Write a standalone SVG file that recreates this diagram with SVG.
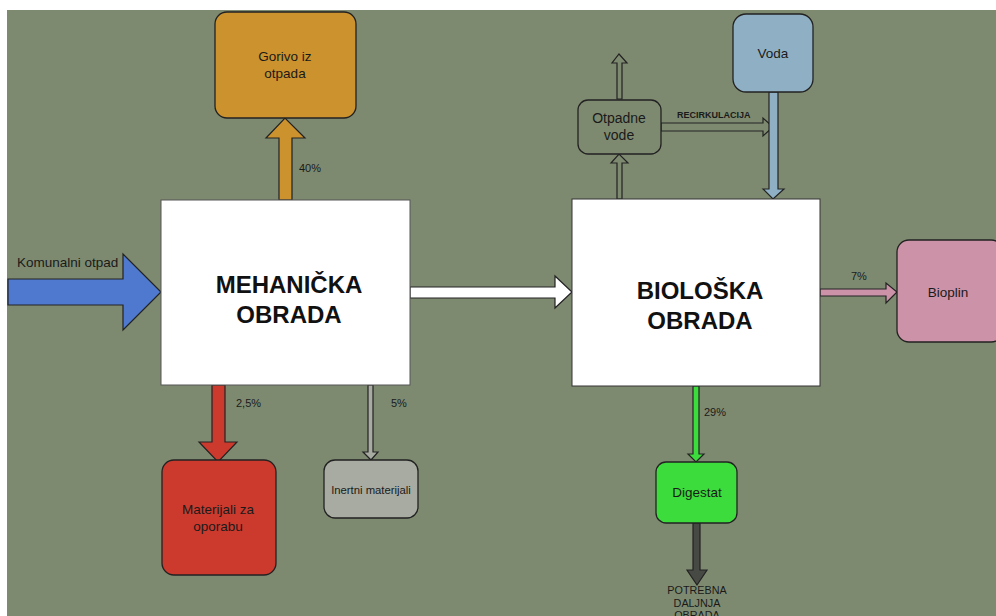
<svg xmlns="http://www.w3.org/2000/svg" width="996" height="616" viewBox="0 0 996 616">
<style>
.t{font-family:"Liberation Sans",Arial,sans-serif;fill:#1a1a1a;text-anchor:middle}
.s{font-size:13.5px}
.b{font-size:24px;font-weight:bold;fill:#111}
.p{font-family:"Liberation Sans",Arial,sans-serif;font-size:11px;fill:#1a1a1a}
.n{stroke:#222;stroke-width:1.3}
.a{stroke:#222;stroke-width:1.2;stroke-linejoin:miter}
</style>
<rect x="0" y="0" width="996" height="616" fill="#ffffff"/>
<rect x="7" y="10" width="989" height="606" fill="#7e8a70"/>

<g id="connectors">
<polygon class="a" fill="#4f79cf" points="8,279 123,279 123,254 161,292 123,330 123,305 8,305"/>
<polygon class="a" fill="#cc922e" points="279,200 279,138 266,138 285,118 305,138 292,138 292,200"/>
<polygon class="a" fill="#ffffff" points="410,287 555,287 555,276 572,292 555,308 555,298 410,298"/>
<polygon class="a" fill="#cc3a2e" points="212,385 212,442 199,442 218,462 237,442 225,442 225,385"/>
<polygon class="a" fill="#a7aba1" points="368,385 368,452 363,452 371,460 378,452 373,452 373,385"/>
<polygon class="a" fill="#3cdc3c" points="693,386 693,454 688,454 696,462 704,454 699,454 699,386"/>
<polygon class="a" fill="#474a44" points="693,523 693,570 687,570 697,585 707,570 700,570 700,523"/>
<polygon class="a" fill="#cc93a8" points="820,289 886,289 886,283 897,292 886,303 886,296 820,296"/>
<polygon class="a" fill="#7e8a70" points="617,199 617,163 611,163 619,154 628,163 622,163 622,199"/>
<polygon class="a" fill="#7e8a70" points="617,99 617,63 612,63 619,54 627,63 622,63 622,99"/>
<polygon class="a" fill="#7e8a70" points="661,123 763,123 763,118 773,127 763,136 763,131 661,131"/>
<polygon class="a" fill="#8fb0c4" points="769,92 769,189 763,189 773,199 784,189 778,189 778,92"/>
</g>

<g id="mehanicka">
<rect x="161" y="200" width="249" height="185" fill="#ffffff" stroke="#555" stroke-width="1"/>
<text class="t b" x="289" y="293">MEHANIČKA</text>
<text class="t b" x="289" y="323">OBRADA</text>
</g>
<g id="bioloska">
<rect x="572" y="199" width="248" height="187" fill="#ffffff" stroke="#333" stroke-width="1"/>
<text class="t b" x="700" y="299">BIOLOŠKA</text>
<text class="t b" x="700" y="329">OBRADA</text>
</g>
<g id="gorivo">
<rect class="n" x="215" y="12" width="141" height="106" rx="12" fill="#cc922e"/>
<text class="t s" x="285" y="61">Gorivo iz</text>
<text class="t s" x="285" y="78">otpada</text>
</g>
<g id="voda">
<rect class="n" x="733" y="14" width="80" height="78" rx="13" fill="#8fb0c4"/>
<text class="t s" x="773" y="58">Voda</text>
</g>
<g id="otpadne">
<rect class="n" x="578" y="100" width="83" height="54" rx="10" fill="#7e8a70"/>
<text class="t" style="font-size:14px" x="619" y="123">Otpadne</text>
<text class="t" style="font-size:14px" x="619" y="140">vode</text>
</g>
<g id="bioplin">
<rect class="n" x="897" y="240" width="106" height="102" rx="12" fill="#cc93a8"/>
<text class="t s" x="948" y="297">Bioplin</text>
</g>
<g id="materijali">
<rect class="n" x="162" y="460" width="114" height="115" rx="12" fill="#cc3a2e"/>
<text class="t s" x="218" y="514">Materijali za</text>
<text class="t s" x="218" y="531">oporabu</text>
</g>
<g id="inertni">
<rect class="n" x="324" y="460" width="94" height="58" rx="11" fill="#a7aba1"/>
<text class="t" style="font-size:11.3px" x="371" y="494">Inertni materijali</text>
</g>
<g id="digestat">
<rect class="n" x="656" y="462" width="81" height="61" rx="10" fill="#3cdc3c"/>
<text class="t s" x="697" y="497">Digestat</text>
</g>

<g id="labels">
<text class="t s" style="text-anchor:start" x="17" y="267">Komunalni otpad</text>
<text class="p" x="299" y="172">40%</text>
<text class="p" x="236" y="407">2,5%</text>
<text class="p" x="391" y="407">5%</text>
<text class="p" x="704" y="416">29%</text>
<text class="p" x="851" y="280">7%</text>
<text class="p" style="font-size:9px;font-weight:bold" x="677" y="118">RECIRKULACIJA</text>
<text class="t" style="font-size:10.8px" x="697" y="594">POTREBNA</text>
<text class="t" style="font-size:10.8px" x="697" y="607">DALJNJA</text>
<text class="t" style="font-size:10.8px" x="697" y="619">OBRADA</text>
</g>
</svg>
